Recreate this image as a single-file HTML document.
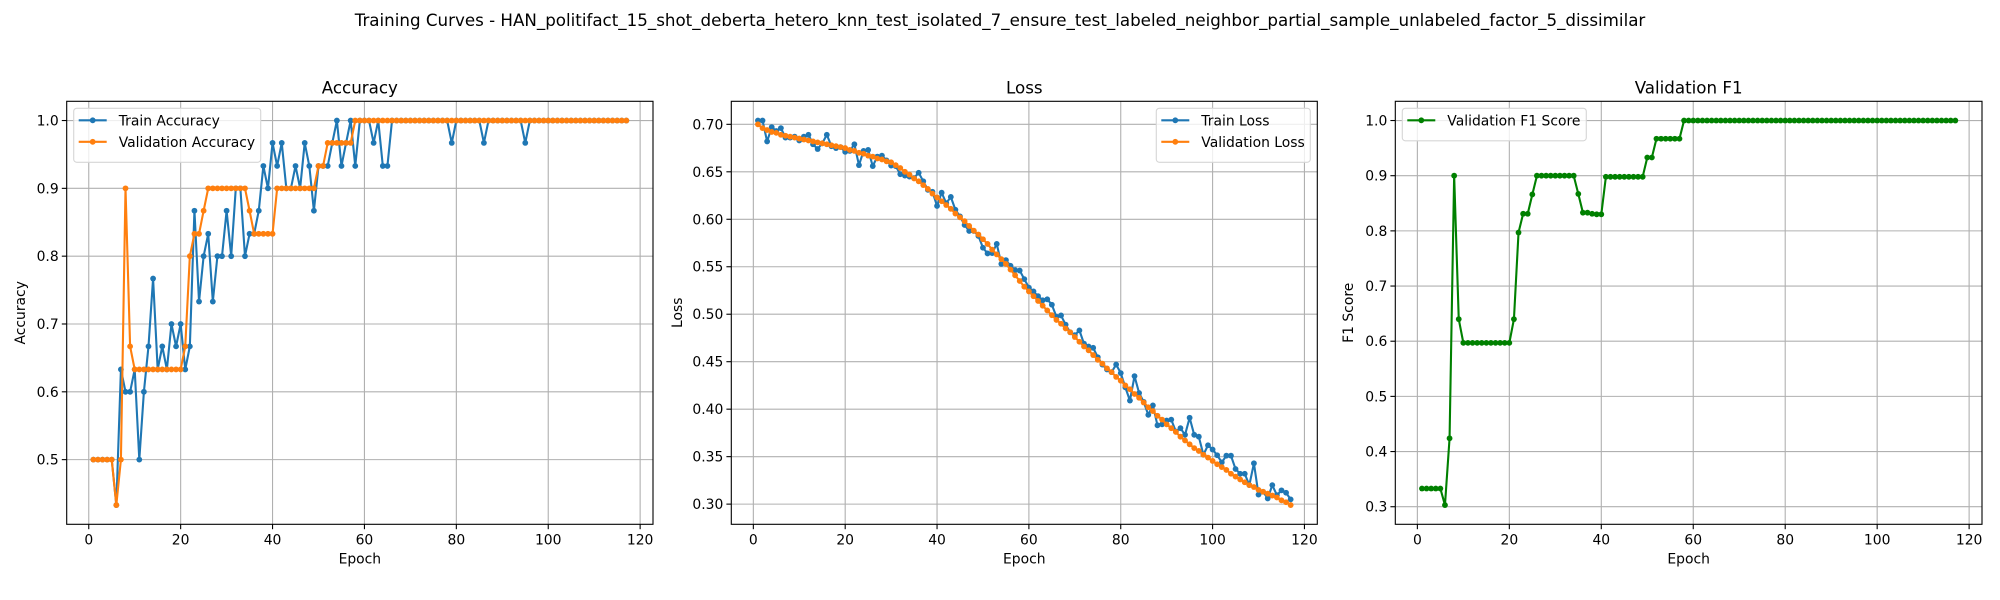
<!DOCTYPE html>
<html><head><meta charset="utf-8"><style>
body{margin:0;background:#fff;}
svg{display:block;font-family:"DejaVu Sans","Liberation Sans",sans-serif;}
</style></head><body>
<svg id="fig" width="2000" height="600" viewBox="0 0 2000 600">
<text x="1000" y="26" text-anchor="middle" font-size="16.7" fill="#000">Training Curves - HAN_politifact_15_shot_deberta_hetero_knn_test_isolated_7_ensure_test_labeled_neighbor_partial_sample_unlabeled_factor_5_dissimilar</text>
</svg>
<script>
const epochs = Array.from({length:117},(_,i)=>i+1);
const trainAcc = [0.5,0.5,0.5,0.5,0.5,0.433,0.633,0.6,0.6,0.633,0.5,0.6,0.667,0.767,0.633,0.667,0.633,0.7,0.667,0.7,0.633,0.667,0.867,0.733,0.8,0.833,0.733,0.8,0.8,0.867,0.8,0.9,0.9,0.8,0.833,0.833,0.867,0.933,0.9,0.967,0.933,0.967,0.9,0.9,0.933,0.9,0.967,0.933,0.867,0.933,0.933,0.933,0.967,1.0,0.933,0.967,1.0,0.933,1.0,1.0,1.0,0.967,1.0,0.933,0.933,1.0,1,1,1,1,1,1,1,1,1,1,1,1,0.967,1,1,1,1,1,1,0.967,1,1,1,1,1,1,1,1,0.967,1,1,1,1,1,1,1,1,1,1,1,1,1,1,1,1,1,1,1,1,1,1];
const valAcc = [0.5,0.5,0.5,0.5,0.5,0.433,0.5,0.9,0.667,0.633,0.633,0.633,0.633,0.633,0.633,0.633,0.633,0.633,0.633,0.633,0.667,0.8,0.833,0.833,0.867,0.9,0.9,0.9,0.9,0.9,0.9,0.9,0.9,0.9,0.867,0.833,0.833,0.833,0.833,0.833,0.9,0.9,0.9,0.9,0.9,0.9,0.9,0.9,0.9,0.933,0.933,0.967,0.967,0.967,0.967,0.967,0.967,1,1,1,1,1,1,1,1,1,1,1,1,1,1,1,1,1,1,1,1,1,1,1,1,1,1,1,1,1,1,1,1,1,1,1,1,1,1,1,1,1,1,1,1,1,1,1,1,1,1,1,1,1,1,1,1,1,1,1,1];
const trainLoss = [0.704,0.704,0.682,0.697,0.693,0.696,0.686,0.686,0.687,0.683,0.687,0.689,0.679,0.674,0.680,0.689,0.677,0.675,0.676,0.671,0.672,0.679,0.657,0.672,0.673,0.656,0.666,0.667,0.662,0.6565,0.656,0.6475,0.646,0.645,0.6435,0.649,0.640,0.631,0.629,0.614,0.628,0.617,0.6235,0.610,0.603,0.594,0.5877,0.5877,0.5825,0.570,0.564,0.5644,0.574,0.553,0.557,0.551,0.5465,0.546,0.537,0.528,0.524,0.519,0.5147,0.5157,0.510,0.4973,0.4987,0.489,0.481,0.478,0.483,0.469,0.466,0.4646,0.4547,0.447,0.4418,0.439,0.447,0.438,0.423,0.409,0.4348,0.417,0.4077,0.394,0.404,0.383,0.384,0.388,0.389,0.3765,0.380,0.373,0.391,0.373,0.371,0.352,0.362,0.3575,0.3515,0.344,0.351,0.351,0.337,0.332,0.332,0.320,0.343,0.310,0.313,0.306,0.320,0.3095,0.3145,0.312,0.305];
const valLoss = [0.700,0.696,0.694,0.692,0.691,0.689,0.688,0.687,0.686,0.685,0.684,0.683,0.682,0.681,0.680,0.679,0.678,0.677,0.676,0.675,0.673,0.672,0.670,0.669,0.667,0.666,0.664,0.663,0.661,0.660,0.657,0.654,0.650,0.647,0.643,0.640,0.636,0.632,0.627,0.623,0.619,0.615,0.611,0.606,0.602,0.598,0.593,0.588,0.584,0.579,0.574,0.568,0.563,0.558,0.553,0.547,0.541,0.535,0.529,0.524,0.519,0.514,0.509,0.504,0.499,0.494,0.490,0.485,0.481,0.476,0.471,0.466,0.462,0.457,0.452,0.448,0.443,0.439,0.434,0.430,0.425,0.421,0.416,0.412,0.407,0.402,0.398,0.393,0.389,0.384,0.380,0.376,0.371,0.367,0.363,0.359,0.356,0.352,0.349,0.3455,0.342,0.339,0.336,0.332,0.329,0.326,0.323,0.320,0.318,0.315,0.313,0.311,0.309,0.307,0.304,0.302,0.299];
const valF1 = [0.333,0.333,0.333,0.333,0.333,0.303,0.424,0.9,0.64,0.597,0.597,0.597,0.597,0.597,0.597,0.597,0.597,0.597,0.597,0.597,0.64,0.797,0.831,0.831,0.866,0.9,0.9,0.9,0.9,0.9,0.9,0.9,0.9,0.9,0.867,0.833,0.833,0.831,0.83,0.83,0.898,0.898,0.898,0.898,0.898,0.898,0.898,0.898,0.898,0.933,0.933,0.967,0.967,0.967,0.967,0.967,0.967,1,1,1,1,1,1,1,1,1,1,1,1,1,1,1,1,1,1,1,1,1,1,1,1,1,1,1,1,1,1,1,1,1,1,1,1,1,1,1,1,1,1,1,1,1,1,1,1,1,1,1,1,1,1,1,1,1,1,1,1];
const xTicks = [0,20,40,60,80,100,120];
const accTicks = ["0.5","0.6","0.7","0.8","0.9","1.0"];
const lossTicks = ["0.30","0.35","0.40","0.45","0.50","0.55","0.60","0.65","0.70"];
const f1Ticks = ["0.3","0.4","0.5","0.6","0.7","0.8","0.9","1.0"];

const NS="http://www.w3.org/2000/svg";
const svg=document.getElementById('fig');
function mk(tag,attrs,parent){const e=document.createElementNS(NS,tag);for(const k in attrs)e.setAttribute(k,attrs[k]);(parent||svg).appendChild(e);return e;}

function panel(o){
  const g=mk('g',{});
  
  
  const L=o.left,R=o.right,T=101.3,B=524.3;
  let xmin=1,xmax=epochs.length; const xm=(xmax-xmin)*0.05; xmin-=xm; xmax+=xm;
  let all=[];o.series.forEach(s=>all=all.concat(s.data));
  let ymin=Math.min(...all),ymax=Math.max(...all);const ym=(ymax-ymin)*0.05;ymin-=ym;ymax+=ym;
  const X=v=>L+(v-xmin)/(xmax-xmin)*(R-L);
  const Y=v=>B-(v-ymin)/(ymax-ymin)*(B-T);
  // grid
  xTicks.forEach(t=>{const x=X(t);
    const gl=mk('line',{x1:x,x2:x,y1:T,y2:B,stroke:'#b0b0b0','stroke-width':1.1},g);
    
    mk('line',{x1:x,x2:x,y1:B,y2:B+4.9,stroke:'#000','stroke-width':1.1},g);
    const tx=mk('text',{x:x,y:B+20,'text-anchor':'middle','font-size':13.9},g);tx.textContent=t;
    
  });
  o.ticks.forEach(t=>{const y=Y(parseFloat(t));
    const gl=mk('line',{x1:L,x2:R,y1:y,y2:y,stroke:'#b0b0b0','stroke-width':1.1},g);
    
    mk('line',{x1:L-4.9,x2:L,y1:y,y2:y,stroke:'#000','stroke-width':1.1},g);
    const tx=mk('text',{x:L-8,y:y+5,'text-anchor':'end','font-size':13.9},g);tx.textContent=t;
    
  });
  // series
  o.series.forEach(s=>{
    const pts=s.data.map((v,i)=>X(epochs[i]).toFixed(2)+','+Y(v).toFixed(2)).join(' ');
    const pl=mk('polyline',{points:pts,fill:'none',stroke:s.color,'stroke-width':2.1,'stroke-linejoin':'round'},g);
    
    s.data.forEach((v,i)=>{const c=mk('circle',{cx:X(epochs[i]),cy:Y(v),r:2.9,fill:s.color},g);
      });
  });
  const fr=mk('rect',{x:L,y:T,width:R-L,height:B-T,fill:'none',stroke:'#000','stroke-width':1.1},g);
  
  const ti=mk('text',{x:(L+R)/2,y:T-8,'text-anchor':'middle','font-size':16.7},g);ti.textContent=o.title;
  
  const xl=mk('text',{x:(L+R)/2,y:B+39,'text-anchor':'middle','font-size':13.9},g);xl.textContent='Epoch';
  
  const yl=mk('text',{x:0,y:0,'text-anchor':'middle','font-size':13.9,transform:`translate(${o.ylx},${(T+B)/2}) rotate(-90)`},g);yl.textContent=o.ylabel;
  
  // legend
  const lg=mk('g',{},g);
  
  const lw=o.legW,lh=14+o.series.length*21.5-3;
  const lx=o.legRight?R-7-lw:L+7,ly=T+7;
  mk('rect',{x:lx,y:ly,width:lw,height:lh,rx:3,fill:'#fff','fill-opacity':0.8,stroke:'#d6d6d6','stroke-width':1.1},lg);
  o.series.forEach((s,i)=>{const yy=ly+12+i*21.5;
    const e=mk('g',{},lg);
    
    mk('line',{x1:lx+5,x2:lx+33,y1:yy,y2:yy,stroke:s.color,'stroke-width':2.1},e);
    mk('circle',{cx:lx+19,cy:yy,r:2.9,fill:s.color},e);
    const t=mk('text',{x:lx+45,y:yy+5,'font-size':13.9},e);t.textContent=s.label;
  });
}
panel({name:'accuracy-panel',title:'Accuracy',ylabel:'Accuracy',left:66.7,right:653,ylx:25,ticks:accTicks,legW:187,legRight:false,
  series:[{id:'train-accuracy',label:'Train Accuracy',color:'#1f77b4',data:trainAcc},{id:'validation-accuracy',label:'Validation Accuracy',color:'#ff7f0e',data:valAcc}]});
panel({name:'loss-panel',title:'Loss',ylabel:'Loss',left:731.3,right:1317.3,ylx:682,ticks:lossTicks,legW:154,legRight:true,
  series:[{id:'train-loss',label:'Train Loss',color:'#1f77b4',data:trainLoss},{id:'validation-loss',label:'Validation Loss',color:'#ff7f0e',data:valLoss}]});
panel({name:'f1-panel',title:'Validation F1',ylabel:'F1 Score',left:1395.3,right:1982,ylx:1353,ticks:f1Ticks,legW:184,legRight:false,
  series:[{id:'validation-f1',label:'Validation F1 Score',color:'#008000',data:valF1}]});
</script>
</body></html>
